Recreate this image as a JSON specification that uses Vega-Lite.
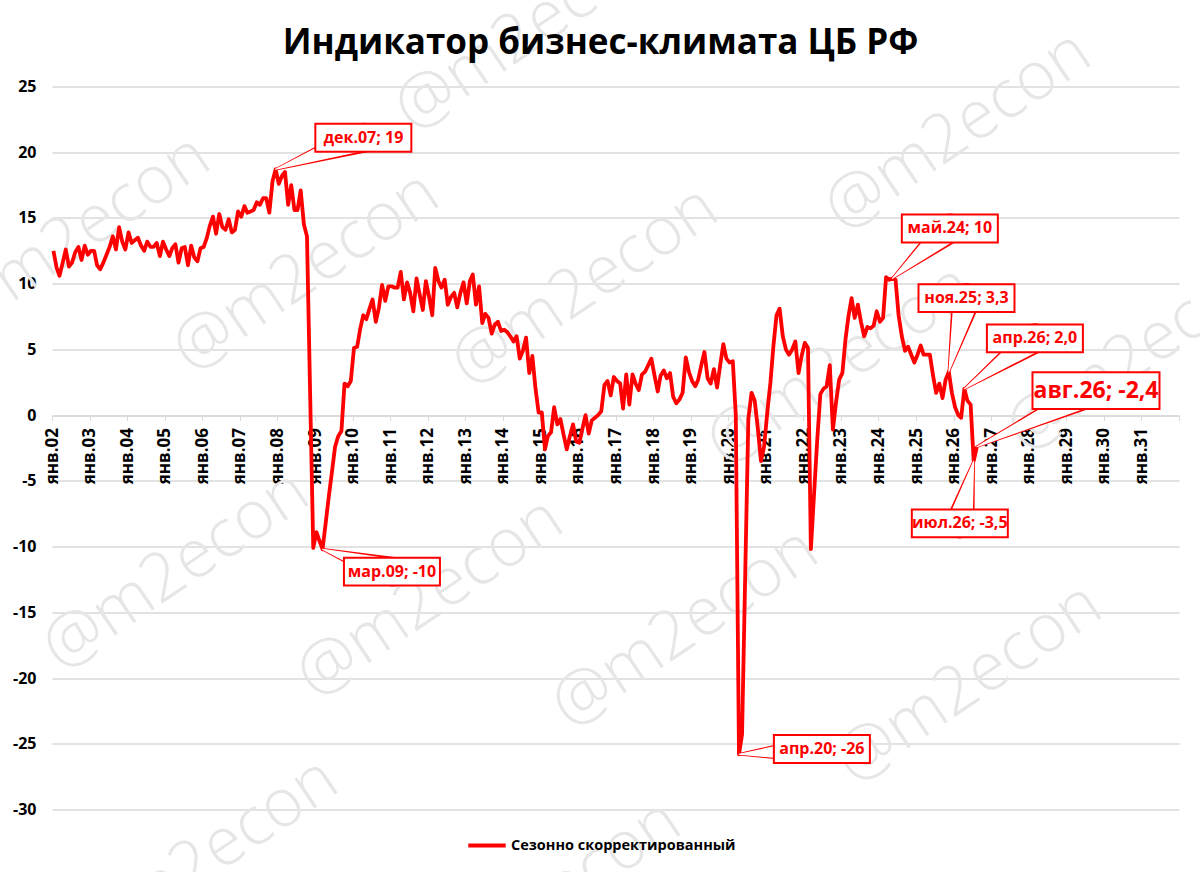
{
  "$schema": "https://vega.github.io/schema/vega-lite/v6.json",
  "width": 1127,
  "height": 723,
  "autosize": {"type": "none"},
  "padding": {"left": 52, "top": 86.5, "right": 21, "bottom": 62.5},
  "background": "white",
  "title": {
    "text": "Индикатор бизнес-климата ЦБ РФ",
    "font": "Open Sans",
    "fontSize": 35,
    "fontWeight": "bold",
    "color": "#000000",
    "anchor": "middle",
    "dx": -15,
    "offset": -143
  },
  "datasets": {
    "series": [
      {"month": "2002-01-15", "value": 12.5}, {"month": "2002-02-15", "value": 11.2}, {"month": "2002-03-15", "value": 10.6}, {"month": "2002-04-15", "value": 11.6}, {"month": "2002-05-15", "value": 12.6}, {"month": "2002-06-15", "value": 11.3}, {"month": "2002-07-15", "value": 11.6}, {"month": "2002-08-15", "value": 12.4}, {"month": "2002-09-15", "value": 12.8}, {"month": "2002-10-15", "value": 11.8}, {"month": "2002-11-15", "value": 12.9}, {"month": "2002-12-15", "value": 12.2},
      {"month": "2003-01-15", "value": 12.5}, {"month": "2003-02-15", "value": 12.5}, {"month": "2003-03-15", "value": 11.4}, {"month": "2003-04-15", "value": 11.1}, {"month": "2003-05-15", "value": 11.6}, {"month": "2003-06-15", "value": 12.2}, {"month": "2003-07-15", "value": 12.8}, {"month": "2003-08-15", "value": 13.6}, {"month": "2003-09-15", "value": 12.6}, {"month": "2003-10-15", "value": 14.3}, {"month": "2003-11-15", "value": 13.2}, {"month": "2003-12-15", "value": 12.6},
      {"month": "2004-01-15", "value": 13.9}, {"month": "2004-02-15", "value": 13.1}, {"month": "2004-03-15", "value": 13.3}, {"month": "2004-04-15", "value": 13.5}, {"month": "2004-05-15", "value": 12.9}, {"month": "2004-06-15", "value": 12.5}, {"month": "2004-07-15", "value": 13.2}, {"month": "2004-08-15", "value": 12.8}, {"month": "2004-09-15", "value": 12.8}, {"month": "2004-10-15", "value": 13.1}, {"month": "2004-11-15", "value": 12.1}, {"month": "2004-12-15", "value": 13.2},
      {"month": "2005-01-15", "value": 12.6}, {"month": "2005-02-15", "value": 12.1}, {"month": "2005-03-15", "value": 12.7}, {"month": "2005-04-15", "value": 13.0}, {"month": "2005-05-15", "value": 11.6}, {"month": "2005-06-15", "value": 12.7}, {"month": "2005-07-15", "value": 12.8}, {"month": "2005-08-15", "value": 11.4}, {"month": "2005-09-15", "value": 12.9}, {"month": "2005-10-15", "value": 12.0}, {"month": "2005-11-15", "value": 11.7}, {"month": "2005-12-15", "value": 12.7},
      {"month": "2006-01-15", "value": 12.8}, {"month": "2006-02-15", "value": 13.5}, {"month": "2006-03-15", "value": 14.4}, {"month": "2006-04-15", "value": 15.1}, {"month": "2006-05-15", "value": 13.8}, {"month": "2006-06-15", "value": 15.3}, {"month": "2006-07-15", "value": 14.3}, {"month": "2006-08-15", "value": 14.1}, {"month": "2006-09-15", "value": 14.9}, {"month": "2006-10-15", "value": 13.9}, {"month": "2006-11-15", "value": 14.1}, {"month": "2006-12-15", "value": 15.5},
      {"month": "2007-01-15", "value": 15.1}, {"month": "2007-02-15", "value": 15.9}, {"month": "2007-03-15", "value": 15.4}, {"month": "2007-04-15", "value": 15.5}, {"month": "2007-05-15", "value": 15.6}, {"month": "2007-06-15", "value": 16.2}, {"month": "2007-07-15", "value": 16.0}, {"month": "2007-08-15", "value": 16.5}, {"month": "2007-09-15", "value": 16.5}, {"month": "2007-10-15", "value": 15.4}, {"month": "2007-11-15", "value": 17.8}, {"month": "2007-12-15", "value": 18.7},
      {"month": "2008-01-15", "value": 17.6}, {"month": "2008-02-15", "value": 18.2}, {"month": "2008-03-15", "value": 18.5}, {"month": "2008-04-15", "value": 16.0}, {"month": "2008-05-15", "value": 17.5}, {"month": "2008-06-15", "value": 15.6}, {"month": "2008-07-15", "value": 15.6}, {"month": "2008-08-15", "value": 17.1}, {"month": "2008-09-15", "value": 14.5}, {"month": "2008-10-15", "value": 13.6}, {"month": "2008-11-15", "value": 1.5}, {"month": "2008-12-15", "value": -10.1},
      {"month": "2009-01-15", "value": -8.9}, {"month": "2009-02-15", "value": -9.6}, {"month": "2009-03-15", "value": -10.2}, {"month": "2009-04-15", "value": -8.2}, {"month": "2009-05-15", "value": -6.2}, {"month": "2009-06-15", "value": -4.3}, {"month": "2009-07-15", "value": -2.4}, {"month": "2009-08-15", "value": -1.6}, {"month": "2009-09-15", "value": -1.2}, {"month": "2009-10-15", "value": 2.4}, {"month": "2009-11-15", "value": 2.2}, {"month": "2009-12-15", "value": 2.6},
      {"month": "2010-01-15", "value": 5.1}, {"month": "2010-02-15", "value": 5.2}, {"month": "2010-03-15", "value": 6.5}, {"month": "2010-04-15", "value": 7.6}, {"month": "2010-05-15", "value": 7.3}, {"month": "2010-06-15", "value": 8.1}, {"month": "2010-07-15", "value": 8.8}, {"month": "2010-08-15", "value": 7.1}, {"month": "2010-09-15", "value": 8.2}, {"month": "2010-10-15", "value": 9.9}, {"month": "2010-11-15", "value": 8.7}, {"month": "2010-12-15", "value": 9.8},
      {"month": "2011-01-15", "value": 9.8}, {"month": "2011-02-15", "value": 9.7}, {"month": "2011-03-15", "value": 9.7}, {"month": "2011-04-15", "value": 10.9}, {"month": "2011-05-15", "value": 8.8}, {"month": "2011-06-15", "value": 10.1}, {"month": "2011-07-15", "value": 9.3}, {"month": "2011-08-15", "value": 7.9}, {"month": "2011-09-15", "value": 10.4}, {"month": "2011-10-15", "value": 9.2}, {"month": "2011-11-15", "value": 8.0}, {"month": "2011-12-15", "value": 10.2},
      {"month": "2012-01-15", "value": 9.0}, {"month": "2012-02-15", "value": 7.6}, {"month": "2012-03-15", "value": 11.2}, {"month": "2012-04-15", "value": 10.2}, {"month": "2012-05-15", "value": 9.7}, {"month": "2012-06-15", "value": 10.3}, {"month": "2012-07-15", "value": 8.4}, {"month": "2012-08-15", "value": 9.0}, {"month": "2012-09-15", "value": 9.3}, {"month": "2012-10-15", "value": 8.2}, {"month": "2012-11-15", "value": 9.3}, {"month": "2012-12-15", "value": 10.1},
      {"month": "2013-01-15", "value": 8.5}, {"month": "2013-02-15", "value": 10.2}, {"month": "2013-03-15", "value": 10.7}, {"month": "2013-04-15", "value": 8.4}, {"month": "2013-05-15", "value": 9.8}, {"month": "2013-06-15", "value": 7.0}, {"month": "2013-07-15", "value": 7.7}, {"month": "2013-08-15", "value": 7.4}, {"month": "2013-09-15", "value": 6.2}, {"month": "2013-10-15", "value": 6.9}, {"month": "2013-11-15", "value": 7.1}, {"month": "2013-12-15", "value": 6.4},
      {"month": "2014-01-15", "value": 6.5}, {"month": "2014-02-15", "value": 6.3}, {"month": "2014-03-15", "value": 6.0}, {"month": "2014-04-15", "value": 5.6}, {"month": "2014-05-15", "value": 6.0}, {"month": "2014-06-15", "value": 4.3}, {"month": "2014-07-15", "value": 4.9}, {"month": "2014-08-15", "value": 5.9}, {"month": "2014-09-15", "value": 3.2}, {"month": "2014-10-15", "value": 4.5}, {"month": "2014-11-15", "value": 2.0}, {"month": "2014-12-15", "value": 0.2},
      {"month": "2015-01-15", "value": 0.2}, {"month": "2015-02-15", "value": -2.6}, {"month": "2015-03-15", "value": -1.6}, {"month": "2015-04-15", "value": -1.3}, {"month": "2015-05-15", "value": 0.6}, {"month": "2015-06-15", "value": -0.7}, {"month": "2015-07-15", "value": -0.3}, {"month": "2015-08-15", "value": -1.5}, {"month": "2015-09-15", "value": -2.6}, {"month": "2015-10-15", "value": -1.6}, {"month": "2015-11-15", "value": -0.7}, {"month": "2015-12-15", "value": -2.0},
      {"month": "2016-01-15", "value": -2.1}, {"month": "2016-02-15", "value": -1.0}, {"month": "2016-03-15", "value": 0.0}, {"month": "2016-04-15", "value": -1.4}, {"month": "2016-05-15", "value": -0.4}, {"month": "2016-06-15", "value": -0.2}, {"month": "2016-07-15", "value": 0.0}, {"month": "2016-08-15", "value": 0.3}, {"month": "2016-09-15", "value": 2.3}, {"month": "2016-10-15", "value": 2.6}, {"month": "2016-11-15", "value": 1.5}, {"month": "2016-12-15", "value": 2.9},
      {"month": "2017-01-15", "value": 2.6}, {"month": "2017-02-15", "value": 2.4}, {"month": "2017-03-15", "value": 0.5}, {"month": "2017-04-15", "value": 3.1}, {"month": "2017-05-15", "value": 0.8}, {"month": "2017-06-15", "value": 3.1}, {"month": "2017-07-15", "value": 2.4}, {"month": "2017-08-15", "value": 1.9}, {"month": "2017-09-15", "value": 3.1}, {"month": "2017-10-15", "value": 3.3}, {"month": "2017-11-15", "value": 3.8}, {"month": "2017-12-15", "value": 4.3},
      {"month": "2018-01-15", "value": 3.0}, {"month": "2018-02-15", "value": 1.8}, {"month": "2018-03-15", "value": 3.0}, {"month": "2018-04-15", "value": 3.4}, {"month": "2018-05-15", "value": 2.8}, {"month": "2018-06-15", "value": 3.2}, {"month": "2018-07-15", "value": 1.4}, {"month": "2018-08-15", "value": 0.9}, {"month": "2018-09-15", "value": 1.2}, {"month": "2018-10-15", "value": 1.7}, {"month": "2018-11-15", "value": 4.4}, {"month": "2018-12-15", "value": 3.3},
      {"month": "2019-01-15", "value": 2.6}, {"month": "2019-02-15", "value": 2.2}, {"month": "2019-03-15", "value": 2.7}, {"month": "2019-04-15", "value": 3.8}, {"month": "2019-05-15", "value": 4.8}, {"month": "2019-06-15", "value": 2.8}, {"month": "2019-07-15", "value": 2.4}, {"month": "2019-08-15", "value": 3.5}, {"month": "2019-09-15", "value": 2.1}, {"month": "2019-10-15", "value": 3.8}, {"month": "2019-11-15", "value": 5.4}, {"month": "2019-12-15", "value": 4.3},
      {"month": "2020-01-15", "value": 4.0}, {"month": "2020-02-15", "value": 4.1}, {"month": "2020-03-15", "value": 0.0}, {"month": "2020-04-15", "value": -25.8}, {"month": "2020-05-15", "value": -24.3}, {"month": "2020-06-15", "value": -12.0}, {"month": "2020-07-15", "value": -0.3}, {"month": "2020-08-15", "value": 1.7}, {"month": "2020-09-15", "value": 1.1}, {"month": "2020-10-15", "value": -1.0}, {"month": "2020-11-15", "value": -3.5}, {"month": "2020-12-15", "value": -2.4},
      {"month": "2021-01-15", "value": 0.2}, {"month": "2021-02-15", "value": 2.5}, {"month": "2021-03-15", "value": 5.2}, {"month": "2021-04-15", "value": 7.6}, {"month": "2021-05-15", "value": 8.1}, {"month": "2021-06-15", "value": 6.0}, {"month": "2021-07-15", "value": 5.0}, {"month": "2021-08-15", "value": 4.6}, {"month": "2021-09-15", "value": 5.0}, {"month": "2021-10-15", "value": 5.6}, {"month": "2021-11-15", "value": 3.2}, {"month": "2021-12-15", "value": 4.5},
      {"month": "2022-01-15", "value": 5.5}, {"month": "2022-02-15", "value": 5.1}, {"month": "2022-03-15", "value": -10.2}, {"month": "2022-04-15", "value": -6.0}, {"month": "2022-05-15", "value": -2.0}, {"month": "2022-06-15", "value": 1.6}, {"month": "2022-07-15", "value": 2.0}, {"month": "2022-08-15", "value": 2.2}, {"month": "2022-09-15", "value": 3.8}, {"month": "2022-10-15", "value": -1.1}, {"month": "2022-11-15", "value": 1.0}, {"month": "2022-12-15", "value": 2.7},
      {"month": "2023-01-15", "value": 3.2}, {"month": "2023-02-15", "value": 5.8}, {"month": "2023-03-15", "value": 7.5}, {"month": "2023-04-15", "value": 8.9}, {"month": "2023-05-15", "value": 7.4}, {"month": "2023-06-15", "value": 8.4}, {"month": "2023-07-15", "value": 7.1}, {"month": "2023-08-15", "value": 6.0}, {"month": "2023-09-15", "value": 6.7}, {"month": "2023-10-15", "value": 6.6}, {"month": "2023-11-15", "value": 6.8}, {"month": "2023-12-15", "value": 7.9},
      {"month": "2024-01-15", "value": 7.1}, {"month": "2024-02-15", "value": 7.4}, {"month": "2024-03-15", "value": 10.5}, {"month": "2024-04-15", "value": 10.3}, {"month": "2024-05-15", "value": 10.4}, {"month": "2024-06-15", "value": 10.3}, {"month": "2024-07-15", "value": 7.6}, {"month": "2024-08-15", "value": 6.0}, {"month": "2024-09-15", "value": 4.9}, {"month": "2024-10-15", "value": 5.2}, {"month": "2024-11-15", "value": 4.6}, {"month": "2024-12-15", "value": 4.0},
      {"month": "2025-01-15", "value": 4.6}, {"month": "2025-02-15", "value": 5.3}, {"month": "2025-03-15", "value": 4.6}, {"month": "2025-04-15", "value": 4.6}, {"month": "2025-05-15", "value": 4.6}, {"month": "2025-06-15", "value": 3.0}, {"month": "2025-07-15", "value": 1.7}, {"month": "2025-08-15", "value": 2.4}, {"month": "2025-09-15", "value": 1.3}, {"month": "2025-10-15", "value": 2.7}, {"month": "2025-11-15", "value": 3.3}, {"month": "2025-12-15", "value": 1.7},
      {"month": "2026-01-15", "value": 0.6}, {"month": "2026-02-15", "value": 0.0}, {"month": "2026-03-15", "value": -0.2}, {"month": "2026-04-15", "value": 2.0}, {"month": "2026-05-15", "value": 1.1}, {"month": "2026-06-15", "value": 0.8}, {"month": "2026-07-15", "value": -3.5}, {"month": "2026-08-15", "value": -2.4}
    ],
    "callouts": [
      {"label": "дек.07; 19", "end": "tip", "month": "2007-12-15", "value": 18.7, "latest": false},
      {"label": "дек.07; 19", "end": "base", "month": "2010-04-16", "value": 21.1, "latest": false},
      {"label": "мар.09; -10", "end": "tip", "month": "2009-03-15", "value": -10.2, "latest": false},
      {"label": "мар.09; -10", "end": "base", "month": "2011-01-19", "value": -11.9, "latest": false},
      {"label": "апр.20; -26", "end": "tip", "month": "2020-04-15", "value": -25.8, "latest": false},
      {"label": "апр.20; -26", "end": "base", "month": "2022-06-30", "value": -25.4, "latest": false},
      {"label": "май.24; 10", "end": "tip", "month": "2024-05-15", "value": 10.4, "latest": false},
      {"label": "май.24; 10", "end": "base", "month": "2025-11-25", "value": 14.2, "latest": false},
      {"label": "ноя.25; 3,3", "end": "tip", "month": "2025-11-15", "value": 3.3, "latest": false},
      {"label": "ноя.25; 3,3", "end": "base", "month": "2026-05-06", "value": 8.9, "latest": false},
      {"label": "апр.26; 2,0", "end": "tip", "month": "2026-04-15", "value": 2.0, "latest": false},
      {"label": "апр.26; 2,0", "end": "base", "month": "2028-03-01", "value": 5.84, "latest": false},
      {"label": "июл.26; -3,5", "end": "tip", "month": "2026-07-15", "value": -3.5, "latest": false},
      {"label": "июл.26; -3,5", "end": "base", "month": "2026-03-02", "value": -8.23, "latest": false},
      {"label": "авг.26; -2,4", "end": "tip", "month": "2026-08-15", "value": -2.4, "latest": true},
      {"label": "авг.26; -2,4", "end": "base", "month": "2029-10-16", "value": 1.86, "latest": true}
    ],
    "watermarks": [
      {"text": "@m2econ", "month": "2002-08-31", "value": 13.7},
      {"text": "@m2econ", "month": "2008-10-05", "value": 10.9},
      {"text": "@m2econ", "month": "2014-09-02", "value": 29.2},
      {"text": "@m2econ", "month": "2016-03-08", "value": 9.8},
      {"text": "@m2econ", "month": "2026-02-12", "value": 21.6},
      {"text": "@m2econ", "month": "2030-12-16", "value": 4.8},
      {"text": "@m2econ", "month": "2022-12-23", "value": 3.8},
      {"text": "@m2econ", "month": "2005-04-20", "value": -11.8},
      {"text": "@m2econ", "month": "2012-01-23", "value": -13.9},
      {"text": "@m2econ", "month": "2006-01-27", "value": -33.7},
      {"text": "@m2econ", "month": "2018-11-06", "value": -16.2},
      {"text": "@m2econ", "month": "2026-05-29", "value": -20.4},
      {"text": "@m2econ", "month": "2015-03-14", "value": -36.9}
    ]
  },
  "layer": [
    {
      "data": {"name": "watermarks"},
      "mark": {"type": "text", "font": "Open Sans", "fontSize": 67, "fontWeight": 300, "angle": -34, "color": "#e6e6e6", "align": "center", "baseline": "middle"},
      "encoding": {
        "x": {"field": "month", "type": "temporal"},
        "y": {"field": "value", "type": "quantitative"},
        "text": {"field": "text"}
      }
    },
    {
      "data": {"name": "series"},
      "mark": {"type": "line", "strokeWidth": 3.8, "strokeJoin": "round"},
      "encoding": {
        "x": {
          "field": "month",
          "type": "temporal",
          "title": null,
          "scale": {
            "type": "utc",
            "domain": [
              {"year": 2002, "month": 1, "date": 1, "utc": true},
              {"year": 2032, "month": 1, "date": 1, "utc": true}
            ]
          },
          "axis": {
            "offset": -394,
            "grid": false,
            "domainColor": "#d9d9d9",
            "domainWidth": 1.5,
            "tickColor": "#d9d9d9",
            "tickSize": 5,
            "tickCount": {"interval": "year", "step": 1},
            "labelAngle": -90,
            "labelAlign": "right",
            "labelBaseline": "middle",
            "labelPadding": 7,
            "labelOverlap": false,
            "labelFlush": false,
            "labelBound": false,
            "labelFont": "Open Sans",
            "labelFontSize": 17,
            "labelFontWeight": "bold",
            "labelColor": "#000000",
            "labelExpr": "utcyear(datum.value) >= 2032 ? '' : 'янв.' + utcFormat(datum.value, '%y')"
          }
        },
        "y": {
          "field": "value",
          "type": "quantitative",
          "title": null,
          "scale": {"domain": [-30, 25], "nice": false, "zero": false},
          "axis": {
            "values": [-30, -25, -20, -15, -10, -5, 0, 5, 10, 15, 20, 25],
            "grid": true,
            "gridColor": "#d9d9d9",
            "gridWidth": 1.5,
            "domain": false,
            "ticks": false,
            "labelPadding": 16,
            "labelFont": "Open Sans",
            "labelFontSize": 16,
            "labelFontWeight": "bold",
            "labelColor": "#000000",
            "labelExpr": "'' + datum.value"
          }
        },
        "color": {
          "datum": "Сезонно скорректированный",
          "type": "nominal",
          "scale": {"range": ["#ff0000"]},
          "legend": {
            "orient": "none",
            "legendX": 414,
            "legendY": 738,
            "title": null,
            "padding": 0,
            "symbolType": "stroke",
            "symbolSize": 1400,
            "symbolStrokeWidth": 4,
            "labelOffset": 3,
            "labelLimit": 500,
            "labelFont": "Open Sans",
            "labelFontSize": 14.5,
            "labelFontWeight": "bold",
            "labelColor": "#000000"
          }
        }
      }
    },
    {
      "data": {"name": "callouts"},
      "mark": {"type": "trail", "color": "#ff0000"},
      "encoding": {
        "x": {"field": "month", "type": "temporal"},
        "y": {"field": "value", "type": "quantitative"},
        "detail": {"field": "label"},
        "size": {"field": "end", "type": "ordinal", "scale": {"domain": ["tip", "base"], "range": [2.5, 30]}, "legend": null}
      }
    },
    {
      "data": {"name": "callouts"},
      "mark": {"type": "trail", "color": "#ffffff"},
      "encoding": {
        "x": {"field": "month", "type": "temporal"},
        "y": {"field": "value", "type": "quantitative"},
        "detail": {"field": "label"},
        "size": {"field": "end", "type": "ordinal", "scale": {"domain": ["tip", "base"], "range": [0, 26]}, "legend": null}
      }
    },
    {
      "data": {"name": "callouts"},
      "transform": [{"filter": "datum.end == 'base' && !datum.latest"}],
      "mark": {"type": "point", "shape": "M-1,-0.29H1V0.29H-1Z", "size": 9216, "filled": true, "fill": "#ffffff", "stroke": "#ff0000", "strokeWidth": 2, "opacity": 1},
      "encoding": {
        "x": {"field": "month", "type": "temporal"},
        "y": {"field": "value", "type": "quantitative"}
      }
    },
    {
      "data": {"name": "callouts"},
      "transform": [{"filter": "datum.end == 'base' && datum.latest"}],
      "mark": {"type": "point", "shape": "M-1,-0.29H1V0.29H-1Z", "size": 16129, "filled": true, "fill": "#ffffff", "stroke": "#ff0000", "strokeWidth": 2, "opacity": 1},
      "encoding": {
        "x": {"field": "month", "type": "temporal"},
        "y": {"field": "value", "type": "quantitative"}
      }
    },
    {
      "data": {"name": "callouts"},
      "transform": [{"filter": "datum.end == 'base' && !datum.latest"}],
      "mark": {"type": "text", "font": "Open Sans", "fontSize": 16, "fontWeight": "bold", "color": "#ff0000", "align": "center", "baseline": "middle"},
      "encoding": {
        "x": {"field": "month", "type": "temporal"},
        "y": {"field": "value", "type": "quantitative"},
        "text": {"field": "label"}
      }
    },
    {
      "data": {"name": "callouts"},
      "transform": [{"filter": "datum.end == 'base' && datum.latest"}],
      "mark": {"type": "text", "font": "Open Sans", "fontSize": 23, "fontWeight": "bold", "color": "#ff0000", "align": "center", "baseline": "middle"},
      "encoding": {
        "x": {"field": "month", "type": "temporal"},
        "y": {"field": "value", "type": "quantitative"},
        "text": {"field": "label"}
      }
    }
  ],
  "resolve": {"scale": {"size": "independent"}},
  "config": {
    "view": {"stroke": null},
    "font": "Open Sans"
  }
}
